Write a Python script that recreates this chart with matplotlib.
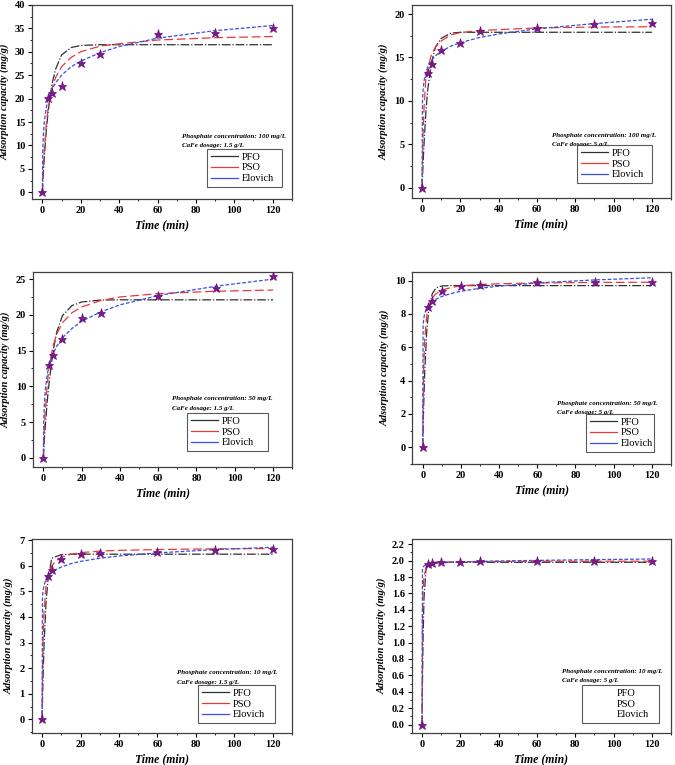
import matplotlib
matplotlib.use("Agg")
import matplotlib.pyplot as plt
from matplotlib.lines import Line2D
from matplotlib.ticker import MultipleLocator, FormatStrFormatter

plt.rcParams['font.family'] = ['Liberation Serif', 'DejaVu Serif']

# sampling times (min)
t_exp = [0, 3, 5, 10, 20, 30, 60, 90, 120]
t_fit = [0, 0.2, 0.5, 1, 2, 3, 5, 7, 10, 15, 20, 30, 40, 60, 90, 120]

# 100 mg/L, 1.5 g/L
q_a = [0, 20.2, 21.3, 22.6, 27.5, 29.6, 33.8, 34.1, 35.1]
pfo_a = [0, 1.6, 3.9, 7.4, 12.9, 17.2, 23.1, 26.4, 29.3, 30.9, 31.35, 31.5, 31.5, 31.5, 31.5, 31.5]
pso_a = [0, 2.35, 5.4, 9.2, 14.3, 17.9, 22.1, 24.6, 26.8, 28.8, 30.0, 31.2, 31.7, 32.5, 33.0, 33.25]
elo_a = [0, 8.5, 12.1, 15.0, 18.0, 19.7, 22.0, 23.4, 25.0, 26.8, 28.0, 29.8, 31.1, 32.9, 34.5, 35.6]

# 100 mg/L, 5 g/L
q_b = [0, 13.2, 14.2, 15.9, 16.7, 18.0, 18.4, 18.8, 19.0]
pfo_b = [0, 1.15, 2.7, 5.0, 8.8, 11.4, 14.5, 16.2, 17.2, 17.8, 17.9, 17.9, 17.9, 17.9, 17.9, 17.9]
pso_b = [0, 2.96, 6.1, 9.1, 12.7, 13.8, 15.4, 16.2, 16.9, 17.6, 17.86, 18.1, 18.2, 18.4, 18.5, 18.54]
elo_b = [0, 9.9, 11.2, 12.3, 13.3, 13.9, 14.7, 15.2, 15.7, 16.3, 16.7, 17.3, 17.7, 18.3, 18.9, 19.4]

# 50 mg/L, 1.5 g/L
q_c = [0, 13.0, 14.4, 16.6, 19.5, 20.2, 22.7, 23.8, 25.5]
pfo_c = [0, 0.96, 2.3, 4.4, 7.8, 10.5, 14.8, 17.6, 19.9, 21.3, 21.8, 22.07, 22.1, 22.1, 22.1, 22.1]
pso_c = [0, 1.7, 3.9, 6.5, 10.2, 12.6, 15.6, 17.3, 18.9, 20.3, 21.1, 22.0, 22.5, 22.97, 23.3, 23.47]
elo_c = [0, 4.8, 7.3, 9.4, 11.6, 12.9, 14.5, 15.6, 16.8, 18.1, 19.1, 20.4, 21.4, 22.7, 24.0, 25.0]

# 50 mg/L, 5 g/L
q_d = [0, 8.4, 8.8, 9.35, 9.7, 9.75, 9.9, 9.9, 9.9]
pfo_d = [0, 1.1, 2.5, 4.4, 6.8, 8.1, 9.22, 9.56, 9.68, 9.7, 9.7, 9.7, 9.7, 9.7, 9.7, 9.7]
pso_d = [0, 2.6, 4.7, 6.4, 7.8, 8.4, 8.96, 9.22, 9.43, 9.59, 9.68, 9.77, 9.81, 9.86, 9.89, 9.9]
elo_d = [0, 7.29, 7.7, 8.01, 8.32, 8.51, 8.74, 8.89, 9.05, 9.23, 9.36, 9.54, 9.67, 9.86, 10.04, 10.17]

# 10 mg/L, 1.5 g/L
q_e = [0, 5.6, 5.85, 6.25, 6.45, 6.5, 6.55, 6.6, 6.65]
pfo_e = [0, 0.73, 1.68, 2.91, 4.51, 5.4, 6.29, 6.35, 6.43, 6.45, 6.45, 6.45, 6.45, 6.45, 6.45, 6.45]
pso_e = [0, 1.7, 3.08, 4.22, 5.18, 5.6, 5.99, 6.18, 6.33, 6.45, 6.51, 6.57, 6.6, 6.63, 6.66, 6.67]
elo_e = [0, 4.74, 5.03, 5.24, 5.46, 5.58, 5.74, 5.84, 5.95, 6.08, 6.17, 6.29, 6.38, 6.5, 6.63, 6.72]

# 10 mg/L, 5 g/L
q_f = [0, 1.96, 1.97, 1.98, 1.985, 1.99, 1.99, 1.99, 1.99]
pfo_f = [0, 0.51, 1.04, 1.54, 1.88, 1.96, 1.98, 1.98, 1.98, 1.98, 1.98, 1.98, 1.98, 1.98, 1.98, 1.98]
pso_f = [0, 1.33, 1.66, 1.81, 1.90, 1.93, 1.955, 1.967, 1.975, 1.982, 1.985, 1.988, 1.99, 1.992, 1.993, 1.993]
elo_f = [0, 1.9, 1.92, 1.935, 1.95, 1.955, 1.963, 1.968, 1.973, 1.98, 1.985, 1.99, 1.996, 2.003, 2.012, 2.02]

conc = ["100", "100", "50", "50", "10", "10"]
dose = ["1.5", "5", "1.5", "5", "1.5", "5"]

fig = plt.figure(figsize=(6.75, 7.65), dpi=100)

panels = [
    # rect, ylim, ystep, q, pfo, pso, elo, legend box, note xy
    ([0.0474, 0.740, 0.385, 0.2536], (-1.4, 40), 5, q_a, pfo_a, pso_a, elo_a, (0.673, 0.062, 0.289, 0.18), (0.577, 0.32)),
    ([0.610, 0.741, 0.384, 0.252], (-1.2, 21), 5, q_b, pfo_b, pso_b, elo_b, (0.637, 0.078, 0.29, 0.187), (0.541, 0.326)),
    ([0.0489, 0.3895, 0.384, 0.255], (-1.3, 26), 5, q_c, pfo_c, pso_c, elo_c, (0.595, 0.082, 0.313, 0.195), (0.537, 0.349)),
    ([0.611, 0.3935, 0.383, 0.2506], (-1.0, 10.5), 2, q_d, pfo_d, pso_d, elo_d, (0.671, 0.063, 0.263, 0.183), (0.559, 0.318)),
    ([0.047, 0.0422, 0.3856, 0.2528], (-0.52, 7.03), 1, q_e, pfo_e, pso_e, elo_e, (0.639, 0.05, 0.296, 0.181), (0.558, 0.309)),
    ([0.610, 0.0422, 0.384, 0.2528], (-0.1, 2.26), 0.2, q_f, pfo_f, pso_f, elo_f, (0.657, 0.05, 0.297, 0.181), (0.58, 0.319)),
]

for i, (rect, ylim, ystep, q, pfo, pso, elo, lbox, note) in enumerate(panels):
    ax = fig.add_axes(rect)
    ax.plot(t_fit, pfo, color='#303030', lw=0.9, ls=(0, (7, 1.5, 1, 1.5)))
    ax.plot(t_fit, pso, color='#e8393b', lw=0.9, ls=(0, (7, 3)))
    ax.plot(t_fit, elo, color='#3a4fe0', lw=0.9, ls=(0, (3, 1.5)))
    ax.plot(t_exp, q, ls='none', marker='*', ms=6.5, color='#7a1a8c', mec='#6a1078', mew=0.5, zorder=5)

    ax.set_xlim(-5.4, 130)
    ax.set_ylim(*ylim)
    ax.xaxis.set_major_locator(MultipleLocator(20))
    ax.xaxis.set_minor_locator(MultipleLocator(10))
    ax.yaxis.set_major_locator(MultipleLocator(ystep))
    ax.yaxis.set_minor_locator(MultipleLocator(ystep / 2))
    if ystep < 1:
        ax.yaxis.set_major_formatter(FormatStrFormatter('%.1f'))
    ax.tick_params(which='major', direction='out', length=3, width=0.8, labelsize=7.5, pad=2)
    ax.tick_params(which='minor', direction='out', length=1.6, width=0.6)
    for lab in ax.get_xticklabels() + ax.get_yticklabels():
        lab.set_fontweight('bold')
    for sp in ax.spines.values():
        sp.set_linewidth(0.9)
        sp.set_color('#404040')

    ax.set_xlabel('Time (min)', fontsize=8.5, fontweight='bold', style='italic', labelpad=3)
    ax.set_ylabel('Adsorption capacity (mg/g)', fontsize=7.5, fontweight='bold', style='italic', labelpad=4)

    ax.text(note[0], note[1], 'Phosphate concentration: %s mg/L' % conc[i], transform=ax.transAxes,
            fontsize=5, fontweight='bold', style='italic', va='center', ha='left')
    ax.text(note[0], note[1] - 0.047, 'CaFe dosage: %s g/L' % dose[i], transform=ax.transAxes,
            fontsize=5, fontweight='bold', style='italic', va='center', ha='left')

    hcol = ['#303030', '#e8393b', '#3a4fe0']
    halpha = 0.0 if i == 5 else 1.0
    handles = [Line2D([], [], color=c, lw=0.9, alpha=halpha) for c in hcol]
    leg = ax.legend(handles, ['PFO', 'PSO', 'Elovich'], loc='lower left',
                    bbox_to_anchor=lbox, mode='expand', borderaxespad=0,
                    fontsize=7.5, frameon=True, fancybox=False, handlelength=2.6,
                    handletextpad=0.4, labelspacing=0.15, borderpad=0.35)
    leg.get_frame().set_edgecolor('#303030')
    leg.get_frame().set_linewidth(0.8)

fig.savefig('out.png', dpi=100)
